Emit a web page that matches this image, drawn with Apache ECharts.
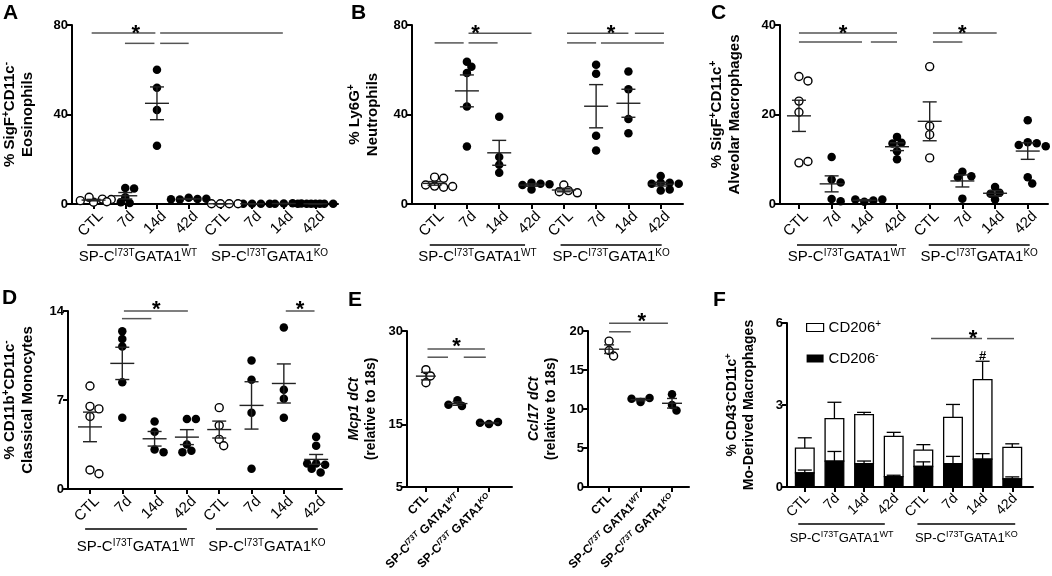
<!DOCTYPE html>
<html>
<head>
<meta charset="utf-8">
<script src="https://cdn.jsdelivr.net/npm/echarts@6/dist/echarts.min.js"></script>
<style>
  html, body { margin: 0; padding: 0; background: #fff; }
  #main { width: 1052px; height: 576px; }
</style>
</head>
<body>
<div id="main"></div>
<script>
const FONT = 'Arial, "Liberation Sans", Helvetica, sans-serif';

// categories
const timeCats = ['CTL', '7d', '14d', '42d', 'CTL', '7d', '14d', '42d'];
const genoCats = ['CTL', 'WT', 'KO'];
const groupTags = ['WT', 'KO'];

// A: % SigF+CD11c- eosinophils, one array per group
const eosValues = [
  [0.8, 2.2, 3.0, 1.5, 2.0, 1.0],
  [7.2, 6.9, 3.0, 0.5, 0.8],
  [60, 52, 42, 26],
  [2.8, 2.2, 2.0, 2.3, 2.1],
  [0.1, 0.1, 0.1, 0.1],
  [0.1, 0.1, 0.1, 0.1],
  [0.2, 0.3, 0.1, 0.2],
  [0.1, 0.1, 0.1, 0.1, 0.1, 0.1, 0.1]
];
// B: % Ly6G+ neutrophils
const neuValues = [
  [12, 11.5, 8, 7.5, 8.5, 7.8],
  [63.6, 61.3, 58.6, 43.6, 25.7],
  [39, 21, 17.5, 14],
  [9.5, 9, 8.5, 8.8, 6.5],
  [8.5, 6, 5.5, 5],
  [62.2, 58.2, 30.5, 23.9],
  [59.2, 51.3, 38, 31.6],
  [12.5, 9.5, 9.5, 9, 9, 6, 6.5]
];
// C: % SigF+CD11c+ alveolar macrophages
const amValues = [
  [28.5, 27.5, 23, 20.5, 9.2, 9.5],
  [10.5, 5.5, 4.8, 1.1, 0.6],
  [0.5, 0.8, 1.0, 1.0],
  [15, 13.7, 13.5, 11.8, 10],
  [30.7, 17.4, 15.5, 10.3],
  [7.2, 6.2, 6.0, 1.2],
  [3.8, 2.5, 2.3, 1.0],
  [18.7, 13.8, 13.6, 13.2, 12.9, 6.0, 4.6]
];
// D: % CD11b+CD11c- classical monocytes
const monoValues = [
  [8.1, 6.5, 6.3, 5.7, 1.5, 1.2],
  [12.4, 11.8, 11.2, 8.4, 5.6],
  [5.3, 4.5, 3.1, 2.9],
  [5.5, 5.5, 3.5, 3.0, 2.9],
  [6.4, 5.0, 3.9, 3.4],
  [10.1, 8.6, 6.0, 1.6],
  [12.7, 7.8, 7.1, 5.6],
  [4.1, 3.4, 2.0, 1.9, 2.0, 1.6, 1.3]
];
// E: dCt relative to 18s
const mcp1Values = [
  [23.8, 22.8, 21.7],
  [18.9, 18.0, 18.2],
  [15.1, 15.4, 15.3]
];
const ccl17Values = [
  [18.7, 17.5, 16.8],
  [10.9, 11.4, 11.3],
  [11.9, 10.5, 9.8]
];
// F: % CD43-CD11c+ mo-derived macrophages (stacked means and SEM)
const cd206NegMean = [0.52, 0.95, 0.85, 0.38, 0.75, 0.85, 1.02, 0.30];
const cd206NegSem  = [0.10, 0.35, 0.10, 0.05, 0.17, 0.27, 0.20, 0.07];
const cd206TotMean = [1.42, 2.50, 2.65, 1.85, 1.35, 2.55, 3.93, 1.45];
const cd206TotSem  = [0.38, 0.60, 0.08, 0.15, 0.20, 0.47, 0.67, 0.13];

// significance annotations [x1, x2, y] and marker positions [x, y]
const sigA = [[-0.06, 1.95, 76.4], [2.1, 5.97, 76.4], [0.99, 1.92, 71.8], [2.1, 3.0, 71.8]];
const starA = [[1.33, 78.3]];
const sigB = [[1.05, 3.0, 76.3], [0, 0.9, 72], [1.05, 1.95, 72], [4.1, 6.0, 76.3], [6.2, 7.1, 76.3], [4.1, 5.0, 72], [5.15, 7.1, 72]];
const starB = [[1.27, 78.3], [5.46, 78.3]];
const sigC = [[0, 3.0, 38.2], [0, 1.93, 36.2], [2.2, 3.0, 36.2], [4.1, 6.05, 38.2], [4.1, 5.0, 36.2]];
const starC = [[1.35, 39.1], [5.0, 39.1]];
const sigD = [[1.05, 3.03, 14], [0.99, 1.9, 13.4], [6.06, 6.95, 14]];
const starD = [[2.05, 14.5], [6.5, 14.5]];
const sigE1 = [[0.05, 1.87, 27.1], [0.05, 0.7, 25.8], [1.2, 1.9, 25.8]];
const starE1 = [[0.97, 28.2]];
const sigE2 = [[0, 1.87, 21], [0, 0.69, 19.9]];
const starE2 = [[1.04, 21.8]];
const sigF = [[4.26, 5.98, 5.43], [6.15, 7.06, 5.43]];
const starF = [[5.68, 5.6]];
const hashF = [[6.0, 4.77]];

function nameRich(size) {
  return {
    b: { fontSize: size, fontWeight: 'bold', lineHeight: size + 3, color: '#000', fontFamily: FONT },
    i: { fontSize: size, fontWeight: 'bold', fontStyle: 'italic', lineHeight: size + 3, color: '#000', fontFamily: FONT },
    s: { fontSize: Math.round(size * 0.66), fontWeight: 'bold', lineHeight: size + 3, verticalAlign: 'top', color: '#000', fontFamily: FONT }
  };
}
function genoLabel(t) {
  if (t === 'CTL') return '{b|CTL}';
  return '{b|SP-C}{s|I73T}{b| GATA1}{s|' + t + '}';
}

const panels = [
  { box: [67, 25, 271, 179], x: [-0.68, 7.71], y: [0, 80], yTicks: [0, 40, 80], cats: timeCats, values: eosValues, open: [0, 4],
    sig: sigA, stars: starA, nameGap: 35, nameSize: 15, name: '{b|% SigF}{s|+}{b|CD11c}{s|-}\n{b|Eosinophils}', mw: 12, cw: 7 },
  { box: [412, 25, 271, 179], x: [-0.7, 7.69], y: [0, 80], yTicks: [0, 40, 80], cats: timeCats, values: neuValues, open: [0, 4],
    sig: sigB, stars: starB, nameGap: 30, nameSize: 15, name: '{b|% Ly6G}{s|+}\n{b|Neutrophils}', mw: 12, cw: 7 },
  { box: [780, 25, 268, 179], x: [-0.58, 7.62], y: [0, 40], yTicks: [0, 20, 40], cats: timeCats, values: amValues, open: [0, 4],
    sig: sigC, stars: starC, nameGap: 36, nameSize: 15, name: '{b|% SigF}{s|+}{b|CD11c}{s|+}\n{b|Alveolar Macrophages}', mw: 12, cw: 7 },
  { box: [67, 311, 275, 178], x: [-0.68, 7.8], y: [0, 14], yTicks: [0, 7, 14], cats: timeCats, values: monoValues, open: [0, 4],
    sig: sigD, stars: starD, nameGap: 31, nameSize: 15, name: '{b|% CD11b}{s|+}{b|CD11c}{s|-}\n{b|Classical Monocytes}', mw: 12, cw: 7 },
  { box: [407, 331, 105, 156], x: [-0.6, 2.73], y: [5, 30], yTicks: [5, 15, 30], cats: genoCats, values: mcp1Values, open: [0],
    sig: sigE1, stars: starE1, nameGap: 27, nameSize: 14, name: '{i|Mcp1 dCt}\n{b|(relative to 18s)}', mw: 10, cw: 5, geno: true,
    labelMargin: 10, labelShift: 1 },
  { box: [588, 331, 101, 156], x: [-0.67, 2.54], y: [0, 20], yTicks: [0, 5, 10, 15, 20], cats: genoCats, values: ccl17Values, open: [0],
    sig: sigE2, stars: starE2, nameGap: 28, nameSize: 14, name: '{i|Ccl17 dCt}\n{b|(relative to 18s)}', mw: 10, cw: 5, geno: true,
    labelMargin: 10, labelShift: 1 }
];
const panelF = { box: [787, 323, 246, 164], x: [-0.6, 7.7], y: [0, 6], yTicks: [0, 3, 6], cats: timeCats,
  nameGap: 29, nameSize: 14, name: '{b|% CD43}{s|-}{b|CD11c}{s|+}\n{b|Mo-Derived Macrophages}',
  labelSize: 14, labelMargin: 12, labelShift: 4 };

function xAxisFor(p, gi) {
  const ticks = p.cats.map((c, i) => i);
  const rich = nameRich(12);
  rich.b.lineHeight = 14; rich.s.lineHeight = 14; rich.s.fontSize = 8; rich.s.fontStyle = 'italic';
  const shift = p.labelShift !== undefined ? p.labelShift : 10;
  return {
    type: 'value', gridIndex: gi, min: p.x[0], max: p.x[1],
    axisLine: { show: true, onZero: false, lineStyle: { color: '#000', width: 2 } },
    axisTick: { show: true, length: 5, customValues: ticks, lineStyle: { color: '#000', width: 2 } },
    axisLabel: {
      customValues: ticks, rotate: 45, margin: p.labelMargin || 17, padding: [0, -shift, 0, 0],
      color: '#000', fontSize: p.labelSize || 15, fontFamily: FONT,
      formatter: v => p.geno ? genoLabel(p.cats[Math.round(v)]) : p.cats[Math.round(v)],
      rich: p.geno ? rich : undefined
    },
    splitLine: { show: false }
  };
}
function yAxisFor(p, gi) {
  return {
    type: 'value', gridIndex: gi, min: p.y[0], max: p.y[1],
    name: p.name, nameLocation: 'middle', nameGap: p.nameGap, nameRotate: 90,
    nameTextStyle: { color: '#000', rich: nameRich(p.nameSize) },
    axisLine: { show: true, onZero: false, lineStyle: { color: '#000', width: 2 } },
    axisTick: { show: true, length: 5, customValues: p.yTicks, lineStyle: { color: '#000', width: 2 } },
    axisLabel: { customValues: p.yTicks, color: '#000', fontWeight: 'bold', fontSize: 13, margin: 4, fontFamily: FONT },
    splitLine: { show: false }
  };
}

// simple beeswarm: horizontal pixel offsets so points do not pile up
function swarm(vals, pxY) {
  const placed = [];
  const d = 6.5, step = 4.5;
  return vals.map(v => {
    const py = v * pxY;
    let best = 0, bestGap = -1;
    for (let k = 0; k < 9; k++) {
      const off = k === 0 ? 0 : (k % 2 === 1 ? 1 : -1) * Math.ceil(k / 2) * step;
      let gap = Infinity;
      placed.forEach(q => { gap = Math.min(gap, Math.hypot(off - q[0], py - q[1])); });
      if (gap >= d) { best = off; bestGap = gap; break; }
      if (gap > bestGap) { bestGap = gap; best = off; }
    }
    placed.push([best, py]);
    return best;
  });
}
function meanSem(vals) {
  const n = vals.length;
  const m = vals.reduce((a, b) => a + b, 0) / n;
  const sd = Math.sqrt(vals.reduce((a, b) => a + (b - m) * (b - m), 0) / (n - 1));
  return [m, sd / Math.sqrt(n)];
}

function errRenderer(mw, cw) {
  return function (params, api) {
    const x = api.value(0), m = api.value(1), s = api.value(2);
    const c = api.coord([x, m]), hi = api.coord([x, m + s]), lo = api.coord([x, m - s]);
    const st = { stroke: '#222', lineWidth: 1.4 };
    return { type: 'group', children: [
      { type: 'line', shape: { x1: c[0] - mw, y1: c[1], x2: c[0] + mw, y2: c[1] }, style: st },
      { type: 'line', shape: { x1: c[0], y1: hi[1], x2: c[0], y2: lo[1] }, style: st },
      { type: 'line', shape: { x1: c[0] - cw, y1: hi[1], x2: c[0] + cw, y2: hi[1] }, style: st },
      { type: 'line', shape: { x1: c[0] - cw, y1: lo[1], x2: c[0] + cw, y2: lo[1] }, style: st }
    ] };
  };
}
function sigRenderer(params, api) {
  const a = api.coord([api.value(0), api.value(2)]);
  const b = api.coord([api.value(1), api.value(2)]);
  return { type: 'line', shape: { x1: a[0], y1: a[1], x2: b[0], y2: b[1] }, style: { stroke: '#555', lineWidth: 1.5 } };
}
function textRenderer(txt, size, dy) {
  return function (params, api) {
    const p = api.coord([api.value(0), api.value(1)]);
    return { type: 'text', style: { text: txt, x: p[0], y: p[1] + dy, fill: '#000', fontSize: size, fontWeight: 'bold',
      fontFamily: FONT, align: 'center', verticalAlign: 'middle', textAlign: 'center', textVerticalAlign: 'middle' } };
  };
}

const option = {
  animation: false,
  backgroundColor: '#fff',
  textStyle: { fontFamily: FONT },
  grid: [], xAxis: [], yAxis: [], series: [], graphic: []
};

panels.forEach((p, gi) => {
  option.grid.push({ left: p.box[0], top: p.box[1], width: p.box[2], height: p.box[3] });
  option.xAxis.push(xAxisFor(p, gi));
  option.yAxis.push(yAxisFor(p, gi));
  const pxX = p.box[2] / (p.x[1] - p.x[0]);
  const pxY = p.box[3] / (p.y[1] - p.y[0]);
  const openPts = [], fillPts = [], errData = [];
  p.values.forEach((vals, i) => {
    const offs = swarm(vals, pxY);
    vals.forEach((v, k) => (p.open.includes(i) ? openPts : fillPts).push([i + offs[k] / pxX, v]));
    errData.push([i].concat(meanSem(vals)));
  });
  const ax = { xAxisIndex: gi, yAxisIndex: gi };
  option.series.push(Object.assign({ type: 'scatter', data: fillPts, symbolSize: 8.5,
    itemStyle: { color: '#000', opacity: 1 }, z: 2 }, ax));
  option.series.push(Object.assign({ type: 'scatter', data: openPts, symbolSize: 8,
    itemStyle: { color: '#fff', borderColor: '#000', borderWidth: 1.4, opacity: 1 }, z: 2 }, ax));
  option.series.push(Object.assign({ type: 'custom', data: errData, renderItem: errRenderer(p.mw, p.cw), z: 3 }, ax));
  option.series.push(Object.assign({ type: 'custom', data: p.sig, renderItem: sigRenderer, z: 3 }, ax));
  option.series.push(Object.assign({ type: 'custom', data: p.stars, renderItem: textRenderer('*', 22, 5), z: 3 }, ax));
});

// panel F: stacked bars drawn through a custom series
const fi = panels.length;
option.grid.push({ left: panelF.box[0], top: panelF.box[1], width: panelF.box[2], height: panelF.box[3] });
option.xAxis.push(xAxisFor(panelF, fi));
option.yAxis.push(yAxisFor(panelF, fi));
function barRenderer(fill) {
  return function (params, api) {
    const i = api.value(0), base = api.value(1), top = api.value(2), err = api.value(3);
    const w = api.size([0.63, 0])[0];
    const p0 = api.coord([i, base]), p1 = api.coord([i, top]), pe = api.coord([i, top + err]);
    const st = { stroke: '#000', lineWidth: 1.3 };
    return { type: 'group', children: [
      { type: 'line', shape: { x1: p1[0], y1: p1[1], x2: pe[0], y2: pe[1] }, style: st },
      { type: 'line', shape: { x1: pe[0] - 7, y1: pe[1], x2: pe[0] + 7, y2: pe[1] }, style: st },
      { type: 'rect', shape: { x: p0[0] - w / 2, y: p1[1], width: w, height: p0[1] - p1[1] },
        style: { fill: fill, stroke: '#000', lineWidth: 1.3 } }
    ] };
  };
}
const posBars = timeCats.map((c, i) => [i, cd206NegMean[i], cd206TotMean[i], cd206TotSem[i]]);
const negBars = timeCats.map((c, i) => [i, 0, cd206NegMean[i], cd206NegSem[i]]);
const axF = { xAxisIndex: fi, yAxisIndex: fi };
option.series.push(Object.assign({ name: 'CD206+', type: 'custom', data: posBars, renderItem: barRenderer('#fff'),
  itemStyle: { color: '#fff', borderColor: '#000' }, z: 2 }, axF));
option.series.push(Object.assign({ name: 'CD206-', type: 'custom', data: negBars, renderItem: barRenderer('#000'),
  itemStyle: { color: '#000' }, z: 3 }, axF));
option.series.push(Object.assign({ type: 'custom', data: sigF, renderItem: sigRenderer, z: 3 }, axF));
option.series.push(Object.assign({ type: 'custom', data: starF, renderItem: textRenderer('*', 22, 5), z: 3 }, axF));
option.series.push(Object.assign({ type: 'custom', data: hashF, renderItem: textRenderer('#', 13, 0), z: 3 }, axF));

option.legend = {
  orient: 'vertical', left: 801, top: 314, itemWidth: 17, itemHeight: 8, itemGap: 15,
  data: [
    { name: 'CD206+', icon: 'rect', itemStyle: { color: '#fff', borderColor: '#000', borderWidth: 1.2 } },
    { name: 'CD206-', icon: 'rect', itemStyle: { color: '#000' } }
  ],
  formatter: n => '{n|CD206}{s|' + n.slice(-1) + '}',
  textStyle: { rich: {
    n: { fontSize: 15, lineHeight: 17, color: '#000', fontFamily: FONT },
    s: { fontSize: 10, lineHeight: 17, verticalAlign: 'top', color: '#000', fontFamily: FONT }
  } },
  selectedMode: false
};

// panel letters
[['A', 3, 3], ['B', 351, 3], ['C', 711, 3], ['D', 2, 288], ['E', 348, 290], ['F', 713, 290]].forEach(l => {
  option.graphic.push({ type: 'text', left: l[1], top: l[2], style: { text: l[0], fill: '#000', font: 'bold 21px ' + FONT } });
});

const chart = echarts.init(document.getElementById('main'));
chart.setOption(option);

// group labels under the time-course axes, placed through the axis scales
const groupDefs = [
  { xi: 0, ranges: [[-0.2, 3.0], [3.95, 7.15]], lineY: 245, textY: 257, size: 15 },
  { xi: 1, ranges: [[-0.15, 2.8], [3.9, 7.03]], lineY: 245, textY: 257, size: 15 },
  { xi: 2, ranges: [[-0.06, 3.0], [3.97, 7.06]], lineY: 245, textY: 257, size: 15 },
  { xi: 3, ranges: [[-0.15, 3.0], [3.9, 7.05]], lineY: 529, textY: 547, size: 15 },
  { xi: fi, ranges: [[-0.22, 2.7], [3.8, 7.1]], lineY: 524, textY: 538, size: 13 }
];
const extra = [];
groupDefs.forEach(g => {
  g.ranges.forEach((r, k) => {
    const x1 = chart.convertToPixel({ xAxisIndex: g.xi }, r[0]);
    const x2 = chart.convertToPixel({ xAxisIndex: g.xi }, r[1]);
    extra.push({ type: 'line', shape: { x1: x1, y1: g.lineY, x2: x2, y2: g.lineY }, style: { stroke: '#000', lineWidth: 1.5 } });
    extra.push({ type: 'text', style: {
      x: (x1 + x2) / 2, y: g.textY, align: 'center', verticalAlign: 'middle', textAlign: 'center', textVerticalAlign: 'middle',
      text: '{n|SP-C}{s|I73T}{n|GATA1}{s|' + groupTags[k] + '}',
      rich: {
        n: { fontSize: g.size, lineHeight: g.size + 3, fill: '#000', fontFamily: FONT },
        s: { fontSize: Math.round(g.size * 0.66), lineHeight: g.size + 3, verticalAlign: 'top', fill: '#000', fontFamily: FONT }
      }
    } });
  });
});
chart.setOption({ graphic: option.graphic.concat(extra) });
</script>
</body>
</html>
